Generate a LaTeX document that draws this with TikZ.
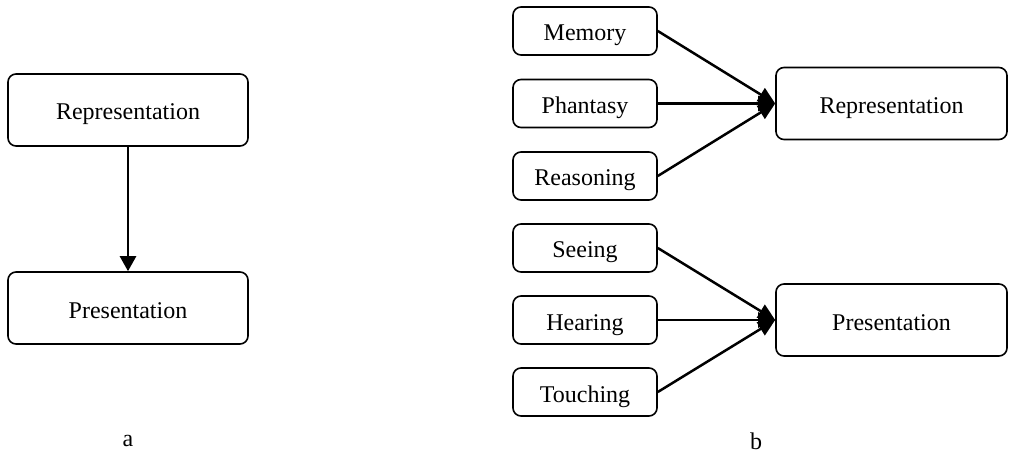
\documentclass[tikz,border=0pt]{standalone}
\usepackage{fontspec}
\setmainfont{Liberation Serif}
\usepackage{tikz}
\usetikzlibrary{arrows.meta}

\begin{document}
\begin{tikzpicture}[x=1pt, y=-1pt,
    box/.style={draw, line width=1.6pt, rounded corners=8pt, inner sep=0pt,
        font=\fontsize{24}{28}\selectfont, text height=20pt, text depth=0pt},
    smallbox/.style={box, minimum width=144pt, minimum height=48pt},
    bigbox/.style={box, minimum width=240pt, minimum height=72pt},
    link/.style={line width=2.5pt, -{Triangle[length=17pt, width=15pt]}}]
    \useasboundingbox (0,0) rectangle (1009,457);
    % a
    \node[bigbox] (repA) at (128,110) {Representation};
    \node[bigbox] (preA) at (128,308) {Presentation};
    \draw[line width=2.5pt, -{Triangle[length=15pt, width=16pt]}] (repA) -- (preA);
    \node[font=\fontsize{24}{28}\selectfont] (labA) at (128,441) {a};
    % b
    \node[smallbox] (mem) at (585,31) {Memory};
    \node[smallbox] (pha) at (585,103.5) {Phantasy};
    \node[smallbox] (rea) at (585,176) {Reasoning};
    \node[smallbox] (see) at (585,248) {Seeing};
    \node[smallbox] (hea) at (585,320) {Hearing};
    \node[smallbox] (tou) at (585,392) {Touching};
    \node[bigbox, minimum width=231pt] (repB) at (891.5,103.5) {Representation};
    \node[bigbox, minimum width=231pt] (preB) at (891.5,320) {Presentation};
    \foreach \s in {mem,pha,rea}
        \draw[link] (\s.east) -- (repB.west);
    \foreach \s in {see,hea,tou}
        \draw[link] (\s.east) -- (preB.west);
    \node[font=\fontsize{24}{28}\selectfont] (labB) at (756,441) {b};
\end{tikzpicture}
\end{document}
